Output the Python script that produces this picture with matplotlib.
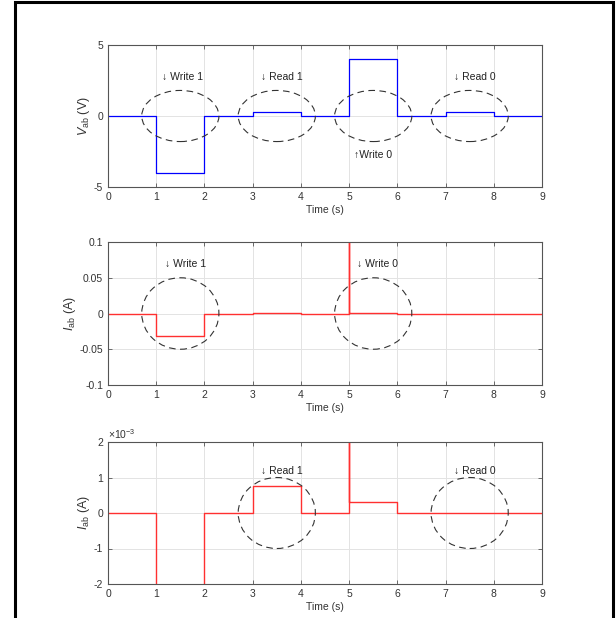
import matplotlib
matplotlib.use("Agg")
import matplotlib.pyplot as plt
from matplotlib.patches import Ellipse, Rectangle

plt.rcParams['font.family'] = ['Liberation Sans', 'DejaVu Sans']
plt.rcParams['mathtext.fontset'] = 'custom'
plt.rcParams['mathtext.rm'] = 'Liberation Sans'
plt.rcParams['mathtext.it'] = 'Liberation Sans:italic'
plt.rcParams['axes.unicode_minus'] = False

# ---- data ----
t_v = [0, 1, 2, 3, 4, 5, 6, 7, 8, 9]
v_ab = [0, -4, 0, 0.3, 0, 4, 0, 0.3, 0, 0]

t_i = [0, 1, 2, 3, 4, 5, 5, 6, 7, 8, 9]
i_ab = [0, -0.032, 0, 0.00075, 0, 0.2, 0.0003, 0, 0, 0, 0]

x_ticks = [0, 1, 2, 3, 4, 5, 6, 7, 8, 9]
v_ticks = [-5, 0, 5]
i_ticks = [-0.1, -0.05, 0, 0.05, 0.1]
i_tick_labels = ['-0.1', '-0.05', '0', '0.05', '0.1']
i_ticks_zoom = [-2e-3, -1e-3, 0, 1e-3, 2e-3]
i_zoom_labels = ['-2', '-1', '0', '1', '2']
i_zoom_exponent = '×10$^{\\mathregular{-3}}$'

# ellipse annotations: (cx, width, height)
ell1_cx = [1.5, 3.5, 5.5, 7.5]
ell1_w, ell1_h = 1.6, 3.6
ell2_cx = [1.5, 5.5]
ell2_w, ell2_h = 1.6, 0.1
ell3_cx = [3.5, 7.5]
ell3_w, ell3_h = 1.6, 2e-3

lab1 = [(1.12, 2.75, '↓ Write 1'), (3.17, 2.75, '↓ Read 1'),
        (7.17, 2.75, '↓ Read 0'), (5.1, -2.75, '↑Write 0')]
lab2 = [(1.18, 0.069, '↓ Write 1'), (5.17, 0.069, '↓ Write 0')]
lab3 = [(3.17, 1.19e-3, '↓ Read 1'), (7.17, 1.19e-3, '↓ Read 0')]

W, H = 616, 618
fig = plt.figure(figsize=(W / 100, H / 100), dpi=100)

# outer black frame
fig.patches.append(Rectangle((15 / W, -0.02), (613 - 15) / W, 1.02 - 1.5 / H,
                             transform=fig.transFigure, fill=False,
                             edgecolor='black', linewidth=2.2))

axc = '#333333'
fs = 7.5

def style(ax, yticks, ylim):
    ax.set_xlim(0, 9)
    ax.set_ylim(*ylim)
    ax.set_xticks(x_ticks)
    ax.set_yticks(yticks)
    ax.grid(True, color='#e3e3e3', linewidth=0.7)
    ax.set_axisbelow(True)
    for s in ax.spines.values():
        s.set_color('#555555')
        s.set_linewidth(0.8)
    ax.tick_params(direction='in', length=3, width=0.6, colors='#555555',
                   labelcolor=axc, labelsize=fs, top=True, right=True)
    ax.set_xlabel('Time (s)', fontsize=fs, color=axc, labelpad=2)

def ellipses(ax, cxs, w, h):
    for cx in cxs:
        ax.add_patch(Ellipse((cx, 0), w, h, fill=False, edgecolor='#333333',
                             linestyle=(0, (6, 4)), linewidth=0.8, zorder=5))

def labels(ax, labs):
    for x, y, s in labs:
        ax.text(x, y, s, fontsize=fs, color='#222222', ha='left', va='center',
                family=['Liberation Sans', 'DejaVu Sans'])

def pos(top, bottom):
    return [108 / W, 1 - bottom / H, (542 - 108) / W, (bottom - top) / H]

ax1 = fig.add_axes(pos(45, 187))
ax1.step(t_v, v_ab, where='post', color='#0000ff', linewidth=0.9)
style(ax1, v_ticks, (-5, 5))
ellipses(ax1, ell1_cx, ell1_w, ell1_h)
labels(ax1, lab1)
ax1.set_ylabel(r'$V_{\rm ab}$ (V)', fontsize=fs + 1.5, color=axc, labelpad=1.5)

ax2 = fig.add_axes(pos(242, 385))
ax2.step(t_i, i_ab, where='post', color='#ff3030', linewidth=1.0)
style(ax2, i_ticks, (-0.1, 0.1))
ax2.set_yticklabels(i_tick_labels)
ellipses(ax2, ell2_cx, ell2_w, ell2_h)
labels(ax2, lab2)
ax2.set_ylabel(r'$I_{\rm ab}$ (A)', fontsize=fs + 1.5, color=axc, labelpad=1)

ax3 = fig.add_axes(pos(442, 584))
ax3.step(t_i, i_ab, where='post', color='#ff3030', linewidth=1.0)
style(ax3, i_ticks_zoom, (-2e-3, 2e-3))
ax3.set_yticklabels(i_zoom_labels)
ax3.text(0, 1.005, i_zoom_exponent, transform=ax3.transAxes, fontsize=fs,
         color=axc, ha='left', va='bottom')
ellipses(ax3, ell3_cx, ell3_w, ell3_h)
labels(ax3, lab3)
ax3.set_ylabel(r'$I_{\rm ab}$ (A)', fontsize=fs + 1.5, color=axc, labelpad=1)

fig.savefig('out.png', dpi=100)
